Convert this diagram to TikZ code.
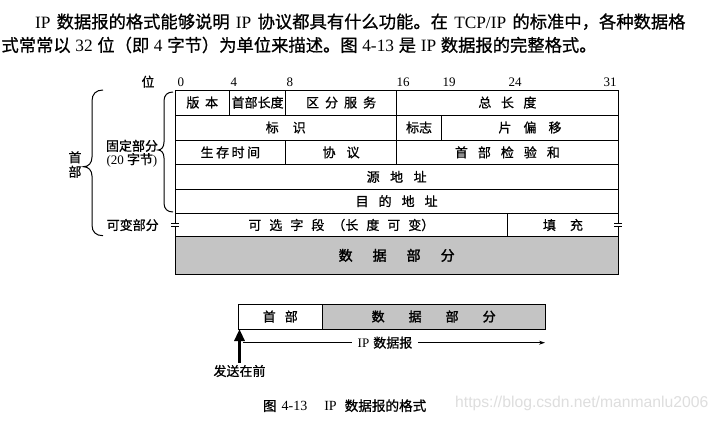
\documentclass[tikz,border=0pt]{standalone}
\usepackage{fontspec}
\setmainfont{Liberation Serif}
\newfontfamily\cjk[FakeBold=0.8]{Noto Sans CJK SC}
\newfontfamily\cjkb[FakeBold=1.8]{Noto Sans CJK SC}
\newfontfamily\wmfont{Liberation Sans}
\usetikzlibrary{arrows.meta}
\definecolor{datagray}{RGB}{196,196,196}
\definecolor{wmgray}{RGB}{222,222,222}
\newcommand\kgap[1]{\hspace*{#1pt}}
\begin{document}
\begin{tikzpicture}[x=1pt,y=-1pt,
  cell/.style={draw, line width=0.9pt, anchor=north west, inner sep=0pt, outer sep=0pt,
    font=\cjk\fontsize{13}{15}\selectfont},
  lbl/.style={inner sep=0pt, outer sep=0pt, font=\cjk\fontsize{13}{15}\selectfont},
  bit/.style={inner sep=0pt, outer sep=0pt, anchor=base west, font=\rmfamily\fontsize{13}{15}\selectfont},
  toptext/.style={inner sep=0pt, outer sep=0pt, anchor=west, font=\rmfamily\fontsize{17.3}{20}\selectfont},
  bracepath/.style={line width=1pt},
  tick/.style={line width=1.1pt}
]
\useasboundingbox[fill=white] (0,0) rectangle (721,421);

% introductory text
\node[toptext] (line1) at (35,21.7) {IP\kgap{6.3}{\cjk 数据报的格式能够说明}\kgap{6.3}IP\kgap{6.3}{\cjk 协议都具有什么功能。在}\kgap{6.3}TCP/IP\kgap{6.3}{\cjk 的标准中，各种数据格}};
\node[toptext] (line2) at (1.5,45) {{\cjk 式常常以}\kgap{4.7}32\kgap{4.7}{\cjk 位（即}\kgap{4.7}4\kgap{4.7}{\cjk 字节）为单位来描述。图}\kgap{4.7}4-13\kgap{4.7}{\cjk 是}\kgap{4.7}IP\kgap{4.7}{\cjk 数据报的完整格式。}};

% bit ruler
\node[lbl] (wei) at (148,81.7) {位};
\node[bit] (b0) at (177.7,86) {0};
\node[bit] (b4) at (230.7,86) {4};
\node[bit] (b8) at (286.7,86) {8};
\node[bit] (b16) at (396.5,86) {16};
\node[bit] (b19) at (442.5,86) {19};
\node[bit] (b24) at (508.5,86) {24};
\node[bit] (b31) at (603.5,86) {31};

% row 1
\node[cell, minimum width=54.5pt, minimum height=25pt] (ver) at (175,90) {版\kgap{5.7}本};
\node[cell, minimum width=56.2pt, minimum height=25pt] (ihl) at (229.5,90) {首部长度};
\node[cell, minimum width=110.8pt, minimum height=25pt] (tos) at (285.7,90) {区\kgap{6}分\kgap{6}服\kgap{6}务};
\node[cell, minimum width=221.8pt, minimum height=25pt] (tlen) at (396.5,90) {总\kgap{9.5}长\kgap{9.5}度};
% row 2
\node[cell, minimum width=221.5pt, minimum height=25pt] (ident) at (175,115) {标\kgap{14}识};
\node[cell, minimum width=45.2pt, minimum height=25pt] (flags) at (396.5,115) {标志};
\node[cell, minimum width=176.6pt, minimum height=25pt] (frag) at (441.7,115) {片\kgap{12}偏\kgap{12}移};
% row 3
\node[cell, minimum width=110.7pt, minimum height=24.7pt] (ttl) at (175,140) {生\kgap{2.5}存\kgap{2.5}时\kgap{2.5}间};
\node[cell, minimum width=110.8pt, minimum height=24.7pt] (proto) at (285.7,140) {协\kgap{11}议};
\node[cell, minimum width=221.8pt, minimum height=24.7pt] (csum) at (396.5,140) {首\kgap{10}部\kgap{10}检\kgap{10}验\kgap{10}和};
% row 4, 5
\node[cell, minimum width=443.3pt, minimum height=24.3pt] (src) at (175,164.7) {源\kgap{10.5}地\kgap{10.5}址};
\node[cell, minimum width=443.3pt, minimum height=24.3pt] (dst) at (175,189) {目\kgap{10}的\kgap{10}地\kgap{10}址};
% row 6
\node[cell, minimum width=332.7pt, minimum height=23.4pt] (opt) at (175,213.3) {可\kgap{8}选\kgap{8}字\kgap{8}段\kgap{8}（长\kgap{8}度\kgap{8}可\kgap{8}变）};
\node[cell, minimum width=110.6pt, minimum height=23.4pt] (pad) at (507.7,213.3) {填\kgap{14}充};
% data part
\node[cell, fill=datagray, minimum width=443.3pt, minimum height=37.3pt,
  font=\cjkb\fontsize{14}{16}\selectfont] (data) at (175,236.7) {数\kgap{20}据\kgap{20}部\kgap{20}分};

% variable-length marks
\fill[white] (171,223.6) rectangle (179,226.4);
\draw[tick] (171,223.4) -- (179,223.4) (171,226.6) -- (179,226.6);
\fill[white] (614.3,223.6) rectangle (622.3,226.4);
\draw[tick] (614.3,223.4) -- (622.3,223.4) (614.3,226.6) -- (622.3,226.6);

% braces
\draw[bracepath] (103,90) .. controls (96,90) and (92,94) .. (92,101) -- (92,157)
  .. controls (92,163) and (88.5,166.7) .. (83.5,166.7)
  .. controls (88.5,166.7) and (92,170.5) .. (92,176) -- (92,225)
  .. controls (92,232) and (96,235.7) .. (103,235.7);
\draw[bracepath] (173,92) .. controls (167.5,92) and (164,95) .. (164,101) -- (164,142)
  .. controls (164,147) and (161.5,150) .. (158,150)
  .. controls (161.5,150) and (164,153) .. (164,158) -- (164,203)
  .. controls (164,209) and (167.5,212) .. (173,212);

% side labels
\node[lbl, align=center, font=\cjk\fontsize{13}{14.4}\selectfont] (hdrlab) at (75,164.5) {首\\部};
\node[lbl, align=center, font=\rmfamily\fontsize{13}{13.3}\selectfont] (fixlab) at (132,153.3) {{\cjk 固定部分}\\(20\kgap{3}{\cjk 字节})};
\node[lbl] (varlab) at (132.7,225) {可变部分};

% lower diagram
\node[cell, minimum width=84pt, minimum height=25pt] (bhdr) at (238.3,304) {首\kgap{9}部};
\node[cell, fill=datagray, minimum width=222.7pt, minimum height=25pt,
  font=\cjkb\fontsize{13}{15}\selectfont] (bdata) at (322.3,304) {数\kgap{24}据\kgap{24}部\kgap{24}分};

\node[lbl, fill=white, inner xsep=6pt, font=\rmfamily\fontsize{13}{15}\selectfont] (dglab) at (385,342.7) {IP\kgap{4}{\cjk 数据报}};
\coordinate (dgs) at (243,342.7);
\coordinate (dge) at (545,342.7);
\draw[line width=0.8pt] (dgs) -- (dglab.west);
\draw[line width=0.8pt, -{Stealth[length=6pt,width=4pt]}] (dglab.east) -- (dge);

\node[lbl] (send) at (239.5,371) {发送在前};
\draw[line width=3.5pt, -{Triangle[length=12pt,width=10pt]}] ([yshift=2pt]send.north) -- (send.north |- bhdr.south);

% caption
\node[toptext, font=\rmfamily\fontsize{14}{16}\selectfont] (cap) at (263,405.7) {{\cjk\fontsize{13.6}{16}\selectfont 图}\kgap{5}4-13\kgap{17}IP\kgap{8}{\cjk\fontsize{13.6}{16}\selectfont 数据报的格式}};

% watermark
\node[inner sep=0pt, anchor=west, text=wmgray, font=\wmfont\fontsize{15.7}{18}\selectfont] (wm) at (455,403) {https://blog.csdn.net/manmanlu2006};
\end{tikzpicture}
\end{document}
